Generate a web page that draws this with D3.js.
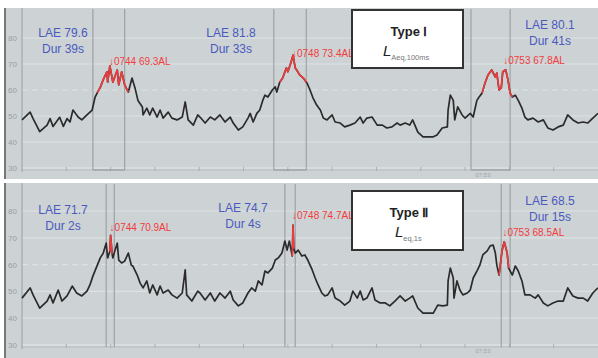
<!DOCTYPE html>
<html><head><meta charset="utf-8">
<script src="https://cdn.jsdelivr.net/npm/d3@7"></script>
<style>body{margin:0;background:#fff}svg{display:block}</style>
</head><body>
<svg id="c" width="598" height="358"></svg>
<script>
// time in seconds from 07:42:00, level in dB(A)
const tTop = [0,11,15,24,34,38,42,51,56,61,65,69,76,81,88,95,99,102,106,110,115,116,119,123,129,131,135,139,144,149,153,157,163,164,169,173,177,183,187,191,198,203,210,217,221,225,232,238,241,248,255,261,268,275,282,286,293,299,306,309,313,318,322,326,329,333,339,343,345,349,353,358,360,364,367,370,372,376,381,385,386,390,394,399,404,408,413,420,424,431,437,444,451,458,462,467,474,481,488,494,501,508,512,519,525,529,536,543,550,557,562,569,576,577,580,584,586,590,596,600,607,611,616,619,623,627,631,636,641,643,646,649,651,655,658,661,664,668,672,677,681,685,692,699,706,712,719,726,733,739,746,753,760,766,773,780];
const vTop = [48.5,51.5,49,44,46.5,49,46,49.5,46,49,47.7,52.3,49.6,48.5,50.4,52.3,57.3,59,61,64,67,63,69.3,63,67.7,62,67,62,59.2,64.6,60.8,56,53.5,50.4,53,50.4,53,49.6,52.3,49.2,51.5,49.2,48.5,49.6,55.4,48.5,46.5,50.4,49.6,47.3,49.6,48.5,50.4,47.7,49.6,47.3,44.6,45.8,49.2,51,47.7,51,52.3,56,58,57.3,60,61.2,59.2,63,64.6,68.5,67,70.4,73.4,68.5,67.7,65.8,64.6,63,62.7,60,57,54.2,52.3,49.2,48.5,50.4,47.7,47.3,45.8,46.5,47.3,49.6,47.3,49.2,49.6,46.5,46.5,45.4,45.8,47.3,46.5,47.3,46.5,48.5,43.8,42,42,42,42.7,45.4,45.8,52.3,58,56,48.5,53.5,50.4,49.2,51,49.6,56,57.3,58.8,62.7,65.8,67.7,65,66.5,60,60.8,67,67.8,64,58.8,57.3,58,56,53,49.6,48.5,49.2,47.7,48.5,45.4,44.6,45.8,46.5,50.4,48.5,47.3,47.7,47.3,49.2,51];

const tBot = [0,11,15,24,34,38,42,49,54,61,68,74,81,88,92,96,102,106,110,114,116,119,120,122,123,126,129,131,135,139,144,148,150,156,160,164,169,173,177,183,187,191,198,203,210,217,221,223,230,238,241,248,255,261,268,275,282,286,293,299,306,311,316,320,325,329,333,339,343,347,352,356,359,362,366,367,368,370,374,379,383,387,393,397,401,406,410,414,420,424,431,437,444,448,454,458,462,467,474,478,485,492,498,505,512,519,525,529,536,543,550,557,563,570,576,577,580,584,585,589,593,597,603,607,611,616,620,624,630,634,638,641,643,646,650,653,657,659,664,668,672,677,681,688,695,699,706,712,719,726,733,739,746,753,760,766,773,780];
const vBot = [47.5,51.3,48.7,43.8,46.4,48.7,45.7,50.5,46.4,48.3,52,49.4,48.3,50.1,52.4,55.7,59.8,62.5,64.3,68,62.5,65,70.9,64,62.5,65.4,68,61.7,60.6,61.3,64.3,59.8,59.5,56.1,53.1,51.3,53.9,49.4,52.4,48.7,52,49.4,50.5,48.7,47.5,49.4,58,48.7,46.4,50.1,49.4,46.8,49.4,46.4,49.4,47.5,50.1,46.8,44.6,45.7,49.4,51.3,50.1,53.9,52.4,57.6,56.9,58.7,61.7,62.5,64.3,68.8,65.4,68.8,63.2,74.7,66,64.3,65.4,63.2,63.6,61.7,58,55,52.4,49.4,48.3,48.7,51.3,47.5,46.4,44.9,46.4,50.1,47.5,50.1,46.8,47.5,51.3,46.8,45.7,45.7,44.6,46.4,48.3,46.4,47.5,48.3,43.8,41.9,41.9,41.9,44.9,44.6,44.9,53.9,58.7,55,47.5,53.9,50.5,48.7,49.4,50.5,55,57.6,59.8,63.6,65.1,67,67.3,64.3,59.8,56.1,65.1,68.5,64.3,58.7,56.1,59.5,57.6,53.9,48.7,48.7,47.5,48.7,45.7,44.6,45.7,46.4,46.4,51.3,48.3,47.5,47.5,46.4,49.4,51.3];

const yTicks = [30,40,50,60,70,80];
const eventClock = ["0744","0748","0753"];
const topPeakT = [119,367,653], topPeakV = [69.3,73.4,67.8];
const botPeakT = [120,367,652], botPeakV = [70.9,74.7,68.5];
const topLAE = [79.6,81.8,80.1], topDur = [39,33,41];
const botLAE = [71.7,74.7,68.5], botDur = [2,4,15];
const topWinStart = [96,341,608], topWinEnd = [139,385,661];
const topRedStart = [102,349,623], topRedEnd = [144,385,664];
const botWinStart = [114,356,649], botWinEnd = [125,370,661];
const botRedStart = [119,366,646], botRedEnd = [122,368,659];
const typeNames = ["Type \u2160","Type \u2161"];
const typeSubs = ["Aeq,100ms","eq,1s"];
const axisTimeLabel = {t:624, text:"07:53"};

const svg = d3.select("#c");
const FONT = "'Liberation Sans', Arial, sans-serif";
const BG = "#cdd2d5";
const x = d3.scaleLinear().domain([0,780]).range([22,598]);

const panels = [
  {top:8, bottom:179, y:d3.scaleLinear().domain([30,80]).range([168,38]), t:tTop, v:vTop,
   peakT:topPeakT, peakV:topPeakV, lae:topLAE, dur:topDur, ws:topWinStart, we:topWinEnd,
   rs:topRedStart, re:topRedEnd, box:true,
   laePos:[[63,37],[231,37],[550,29]], redY:[65,57,64], legend:{y:10,h:58}, name:typeNames[0], sub:typeSubs[0], lx:383},
  {top:183, bottom:358, y:d3.scaleLinear().domain([30,80]).range([345,211]), t:tBot, v:vBot,
   peakT:botPeakT, peakV:botPeakV, lae:botLAE, dur:botDur, ws:botWinStart, we:botWinEnd,
   rs:botRedStart, re:botRedEnd, box:false,
   laePos:[[63,214],[243,212],[550,205]], redY:[231,219,236], legend:{y:191,h:59}, name:typeNames[1], sub:typeSubs[1], lx:395}
];

panels.forEach((p,pi)=>{
  const g = svg.append("g");
  const y = p.y;
  const axisY = y(30);
  g.append("rect").attr("x",4).attr("y",p.top).attr("width",594).attr("height",p.bottom-p.top).attr("fill",BG);
  g.append("line").attr("x1",5).attr("x2",5).attr("y1",p.top).attr("y2",p.bottom).attr("stroke","#777").attr("stroke-width",2);
  yTicks.forEach(v=>{
    g.append("line").attr("x1",22).attr("x2",598).attr("y1",y(v)).attr("y2",y(v))
      .attr("stroke", v===30 ? "#e4e7e8" : "#dde1e3").attr("stroke-width",1.2)
      .attr("stroke-dasharray", v===60 ? "6,4" : null);
    g.append("text").attr("x",17).attr("y",y(v)+3).attr("text-anchor","end")
      .attr("font-family",FONT).attr("font-size",8).attr("fill","#9aa0a5").text(v);
  });
  g.append("line").attr("x1",22).attr("x2",598).attr("y1",axisY+2).attr("y2",axisY+2).attr("stroke","#b8bdc0");
  g.append("line").attr("x1",22).attr("x2",22).attr("y1",p.top).attr("y2",axisY+4).attr("stroke","#a3a8ab").attr("stroke-width",1.2);
  d3.range(60,780,60).forEach(tt=>{
    g.append("line").attr("x1",x(tt)).attr("x2",x(tt)).attr("y1",axisY-1).attr("y2",axisY+3).attr("stroke","#aab0b3");
  });
  g.append("text").attr("x",x(axisTimeLabel.t)).attr("y",axisY+(pi===0?9:8)).attr("text-anchor","middle")
    .attr("font-family",FONT).attr("font-size",6).attr("fill","#a0a5a8").text(axisTimeLabel.text);
  p.ws.forEach((s,i)=>{
    const e = p.we[i];
    [s,e].forEach(tt=>{
      g.append("line").attr("x1",x(tt)).attr("x2",x(tt)).attr("y1",p.top+1).attr("y2",axisY+2)
        .attr("stroke","#9ea3a6").attr("stroke-width",1.2);
    });
    if(p.box){
      g.append("line").attr("x1",x(s)).attr("x2",x(e)).attr("y1",axisY+2).attr("y2",axisY+2).attr("stroke","#8f9497").attr("stroke-width",1.2);
    }
  });
  const data = p.t.map((t,i)=>({t, v:p.v[i]}));
  const line = d3.line().x(d=>x(d.t)).y(d=>y(d.v));
  g.append("path").datum(data).attr("d",line).attr("fill","none").attr("stroke","#2b2b2b")
    .attr("stroke-width",1.7).attr("stroke-linejoin","round");
  p.rs.forEach((s,i)=>{
    const seg = data.filter(d=>d.t>=s && d.t<=p.re[i]);
    g.append("path").datum(seg).attr("d",line).attr("fill","none").attr("stroke","#f23c3c")
      .attr("stroke-width",1.6).attr("stroke-linejoin","round");
  });
  p.lae.forEach((l,i)=>{
    const [lx,ly] = p.laePos[i];
    g.append("text").attr("x",lx).attr("y",ly).attr("text-anchor","middle").attr("font-family",FONT)
      .attr("font-size",12).attr("fill","#4a5bbd").text("LAE "+l.toFixed(1));
    g.append("text").attr("x",lx).attr("y",ly+16).attr("text-anchor","middle").attr("font-family",FONT)
      .attr("font-size",12).attr("fill","#4a5bbd").text("Dur "+p.dur[i]+"s");
    g.append("text").attr("x",x(p.peakT[i])-1).attr("y",p.redY[i]).attr("font-family",FONT)
      .attr("font-size",10).attr("fill","#f23c3c").text("\u2193"+eventClock[i]+" "+p.peakV[i].toFixed(1)+"AL");
  });
  const L = p.legend;
  g.append("rect").attr("x",352).attr("y",L.y).attr("width",111).attr("height",L.h)
    .attr("fill","#fff").attr("stroke","#333").attr("stroke-width",2);
  g.append("text").attr("x",409).attr("y",L.y+26).attr("text-anchor","middle").attr("font-family",FONT)
    .attr("font-size",13).attr("font-weight","bold").attr("fill","#222").text(p.name);
  const lt = g.append("text").attr("x",p.lx).attr("y",L.y+46).attr("font-family",FONT).attr("fill","#222");
  lt.append("tspan").attr("font-size",15).attr("font-style","italic").text("L");
  lt.append("tspan").attr("font-size",7.5).attr("dy",4).attr("fill","#777").text(p.sub);
});
</script>
</body></html>
